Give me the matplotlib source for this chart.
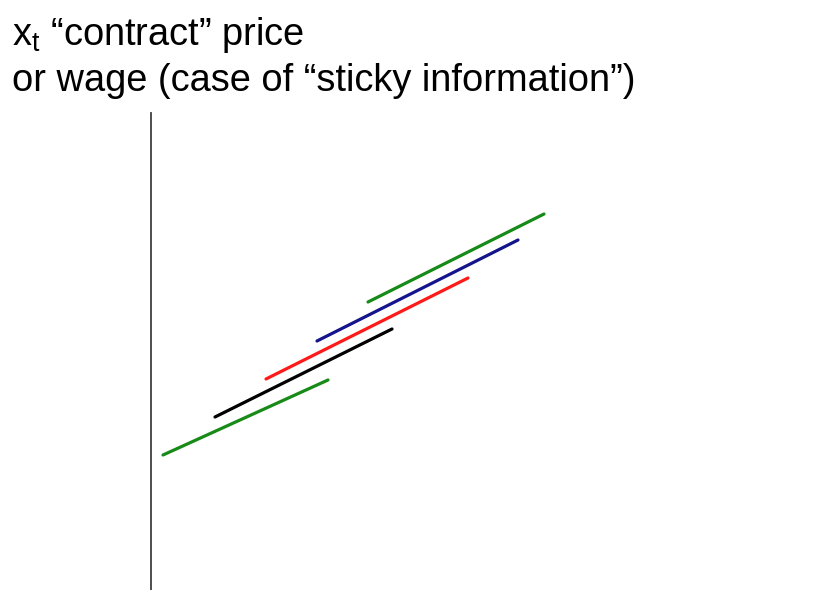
import matplotlib
matplotlib.use("Agg")
import matplotlib.pyplot as plt

plt.rcParams['font.family'] = ['Liberation Sans', 'DejaVu Sans']
plt.rcParams['mathtext.fontset'] = 'custom'
plt.rcParams['mathtext.rm'] = 'Liberation Sans'
plt.rcParams['mathtext.it'] = 'Liberation Sans'

# contract segments: start/end time and start/end level
t_start = [12, 64, 115, 166, 217]
t_end = [177, 241, 317, 367, 393]
x_start = [135, 173, 211, 249, 288]
x_end = [210, 261, 312, 350, 376]
colors = ['#178a17', '#000000', '#ff1a1a', '#14148c', '#178a17']

title1 = r'x$_\mathrm{t}$ “contract” price'
title2 = 'or wage (case of “sticky information”)'

fig = plt.figure(figsize=(8.23, 5.9), dpi=100)
ax = fig.add_axes([151 / 823, 0, 672 / 823, 477 / 590])

for i in range(len(t_start)):
    ax.plot([t_start[i], t_end[i]], [x_start[i], x_end[i]],
            color=colors[i], lw=2.3, solid_capstyle='round')

ax.set_xlim(0, 672)
ax.set_ylim(0, 477)
for s in ['top', 'right', 'bottom']:
    ax.spines[s].set_visible(False)
ax.spines['left'].set_color('#404040')
ax.spines['left'].set_linewidth(1.3)
ax.set_xticks([])
ax.set_yticks([])

fig.text(12 / 823, 1 - 45 / 590, title1, fontsize=27.4, va='baseline')
fig.text(12 / 823, 1 - 91 / 590, title2, fontsize=27.4, va='baseline')

fig.savefig('out.png', dpi=100)
